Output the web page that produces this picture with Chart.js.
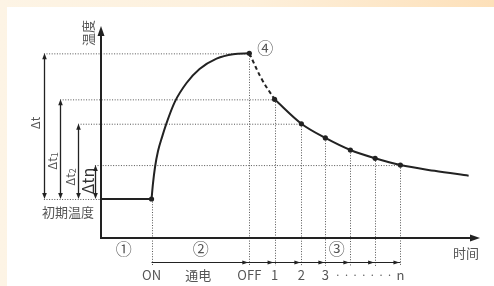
<!DOCTYPE html>
<html>
<head>
<meta charset="utf-8">
<script src="https://cdn.jsdelivr.net/npm/chart.js@4.4.1/dist/chart.umd.min.js"></script>
<style>
  html, body { margin: 0; padding: 0; }
  body {
    width: 494px; height: 286px; overflow: hidden; position: relative;
    background: linear-gradient(90deg, #fdf4e5 0%, #fdf0dc 50%, #fde0b9 100%);
  }
  #panel { position: absolute; left: 7px; top: 7px; right: 0; bottom: 0; background: #fff; }
  #wrap { position: absolute; left: 0; top: 0; width: 494px; height: 286px; }
</style>
</head>
<body>
<div id="panel"></div>
<div id="wrap"><canvas id="chart" width="494" height="286"></canvas></div>
<script>
// Heating (switch ON -> OFF)
const timeOn = 2.0;
const timeOff = 5.87;
const baseTemp = 18.4;
const peakTemp = 87.1;
const heatTimes = [2.0, 2.059, 2.139, 2.257, 2.416, 2.594, 2.922, 3.385, 3.90, 4.573, 5.23, 5.87];
const heatTemps = [18.4, 25.9, 33.5, 41.0, 47.6, 54.2, 64.2, 73.1, 79.7, 84.6, 86.7, 87.1];

// dashed part right after OFF
const dashTimes = [5.87, 6.37, 6.87];
const dashTemps = [87.1, 74.8, 65.4];

// cooling measurements 1, 2, 3 ... n
const coolTimes = [6.87, 7.93, 8.88, 9.87, 10.85, 11.85];
const coolTemps = [65.4, 53.9, 47.2, 41.5, 37.6, 34.4];
const tailTimes = [13.2, 14.55];
const tailTemps = [31.7, 29.4];

// Δ arrows on the left (time value left of the axis, top temperature)
const deltaLabels = ["Δt", "Δt1", "Δt2", "Δtn"];
const deltaTimes = [-2.26, -1.62, -0.91, -0.24];
const deltaTops = [87.1, 65.4, 53.9, 34.4];

// labels under the time axis
const tickLabels = ["ON", "通电", "OFF", "1", "2", "3", "· · · · · · ·", "n"];
const tickTimes = [2.0, 3.85, 5.87, 6.87, 7.93, 8.88, 10.4, 11.85];
const rowTemp = -11.3;   // level of the little arrow row

const phaseLabels = ["①", "②", "③", "④"];
const phaseTimes = [0.9, 3.95, 9.33, 6.5];
const phaseTemps = [-5.2, -5.2, -5.2, 89.6];

const INK = "#222";
const GUIDE = "#555";
const TEXT = "#555";
const FONT = '"Noto Sans CJK JP", "Noto Sans", sans-serif';

const pts = (xs, ys) => xs.map((x, i) => ({ x, y: ys[i] }));

function arrowHead(ctx, x, y, dir, len, half) {
  // dir: 'up' | 'down' | 'right'
  ctx.beginPath();
  if (dir === "up") { ctx.moveTo(x, y); ctx.lineTo(x - half, y + len); ctx.lineTo(x + half, y + len); }
  if (dir === "down") { ctx.moveTo(x, y); ctx.lineTo(x - half, y - len); ctx.lineTo(x + half, y - len); }
  if (dir === "right") { ctx.moveTo(x, y); ctx.lineTo(x - len, y - half); ctx.lineTo(x - len, y + half); }
  ctx.closePath();
  ctx.fill();
}

function line(ctx, x1, y1, x2, y2) {
  ctx.beginPath(); ctx.moveTo(x1, y1); ctx.lineTo(x2, y2); ctx.stroke();
}

const diagram = {
  id: "diagram",
  beforeDatasetsDraw(chart) {
    const { ctx, scales: { x, y } } = chart;
    const X = v => x.getPixelForValue(v), Y = v => y.getPixelForValue(v);
    ctx.save();

    // dotted guides
    ctx.strokeStyle = GUIDE; ctx.lineWidth = 1; ctx.setLineDash([1, 1.6]);
    line(ctx, X(deltaTimes[0]), Y(peakTemp) + 0.5, X(timeOff), Y(peakTemp) + 0.5);
    line(ctx, X(deltaTimes[1]), Y(coolTemps[0]) + 0.5, X(coolTimes[0]), Y(coolTemps[0]) + 0.5);
    line(ctx, X(deltaTimes[2]), Y(coolTemps[1]) + 0.5, X(coolTimes[1]), Y(coolTemps[1]) + 0.5);
    line(ctx, X(deltaTimes[3]), Y(coolTemps[5]) + 0.5, X(coolTimes[5]), Y(coolTemps[5]) + 0.5);
    line(ctx, X(deltaTimes[0]), Y(baseTemp) + 0.5, X(0), Y(baseTemp) + 0.5);
    const bottom = Y(rowTemp) + 4;
    line(ctx, Math.round(X(timeOn)) + 0.5, Y(baseTemp), Math.round(X(timeOn)) + 0.5, bottom);
    line(ctx, Math.round(X(timeOff)) + 0.5, Y(peakTemp), Math.round(X(timeOff)) + 0.5, bottom);
    coolTimes.forEach((t, i) => {
      line(ctx, Math.round(X(t)) + 0.5, Y(coolTemps[i]), Math.round(X(t)) + 0.5, bottom);
    });
    ctx.setLineDash([]);

    // axes
    ctx.strokeStyle = INK; ctx.fillStyle = INK; ctx.lineWidth = 2;
    line(ctx, X(0), Y(0), X(0), Y(100) + 8);
    arrowHead(ctx, X(0), Y(100), "up", 10, 3.5);
    line(ctx, X(0) - 1, Y(0), X(15) - 8, Y(0));
    arrowHead(ctx, X(15), Y(0), "right", 10, 3.5);

    // Δ arrows
    ctx.lineWidth = 1.3;
    deltaTimes.forEach((t, i) => {
      const px = Math.round(X(t)) + 0.5;
      line(ctx, px, Y(deltaTops[i]) + 5, px, Y(baseTemp) - 5);
      arrowHead(ctx, px, Y(deltaTops[i]), "up", 6, 2.3);
      arrowHead(ctx, px, Y(baseTemp), "down", 6, 2.3);
    });

    // little arrow row ON -> OFF -> 1 -> ... n
    const stops = [timeOff].concat(coolTimes);
    ctx.lineWidth = 1.2;
    const ry = Math.round(Y(rowTemp)) + 0.5;
    line(ctx, X(timeOn), ry, X(coolTimes[5]), ry);
    stops.forEach(t => arrowHead(ctx, X(t) - 1, ry, "right", 6, 2));

    ctx.restore();
  },
  afterDatasetsDraw(chart) {
    const { ctx, scales: { x, y } } = chart;
    const X = v => x.getPixelForValue(v), Y = v => y.getPixelForValue(v);
    ctx.save();
    ctx.fillStyle = TEXT;
    ctx.textAlign = "center"; ctx.textBaseline = "middle";

    // axis titles
    ctx.font = "13px " + FONT;
    ctx.save(); ctx.translate(X(0) - 13, Y(100) + 7); ctx.rotate(-Math.PI / 2);
    ctx.fillText("温度", 0, 0); ctx.restore();
    ctx.fillText("时间", X(15) - 14, Y(0) + 15);
    ctx.fillText("初期温度", X(deltaTimes[0]) + 24, Y(baseTemp) + 13);

    // bottom labels
    tickLabels.forEach((s, i) => {
      ctx.font = (s.startsWith("·") ? "11px " : "13px ") + FONT;
      ctx.fillText(s, X(tickTimes[i]), Y(rowTemp) + 13);
    });

    // circled numbers
    ctx.font = "16px " + FONT;
    phaseLabels.forEach((s, i) => ctx.fillText(s, X(phaseTimes[i]), Y(phaseTemps[i])));

    // Δ labels
    const pos = [[-8, 123], [-8, 161], [-8, 177], [-7, 181]];
    deltaLabels.forEach((s, i) => {
      const px = X(deltaTimes[i]) + pos[i][0];
      ctx.save(); ctx.translate(px, pos[i][1]); ctx.rotate(-Math.PI / 2);
      if (i === 3) {
        ctx.fillStyle = "#333"; ctx.font = "16px " + FONT;
        ctx.fillText(s, 0, 0);
      } else {
        const main = s.slice(0, 2), sub = s.slice(2);
        ctx.font = "12px " + FONT;
        const w = ctx.measureText(main).width;
        ctx.font = "9px " + FONT;
        const ws = sub ? ctx.measureText(sub).width : 0;
        ctx.textAlign = "left";
        ctx.font = "12px " + FONT;
        ctx.fillText(main, -(w + ws) / 2, 0);
        if (sub) { ctx.font = "9px " + FONT; ctx.fillText(sub, -(w + ws) / 2 + w, 3); }
      }
      ctx.restore();
    });
    ctx.restore();
  }
};

new Chart(document.getElementById("chart"), {
  type: "line",
  data: {
    datasets: [
      { data: pts([0, timeOn], [baseTemp, baseTemp]), borderColor: INK, borderWidth: 2, pointRadius: 0 },
      { data: pts(heatTimes, heatTemps), borderColor: INK, borderWidth: 2, pointRadius: 0, cubicInterpolationMode: "monotone" },
      { data: pts(dashTimes, dashTemps), borderColor: INK, borderWidth: 2, borderDash: [4, 3], pointRadius: 0, tension: 0.4 },
      { data: pts(coolTimes.concat(tailTimes), coolTemps.concat(tailTemps)), borderColor: INK, borderWidth: 2, pointRadius: 0, cubicInterpolationMode: "monotone" },
      { data: pts([timeOn, timeOff].concat(coolTimes), [baseTemp, peakTemp].concat(coolTemps)), showLine: false,
        pointRadius: 2.6, pointBackgroundColor: INK, pointBorderWidth: 0 }
    ]
  },
  options: {
    responsive: false,
    animation: false,
    events: [],
    layout: { padding: { left: 101, right: 14, top: 26, bottom: 48 } },
    plugins: { legend: { display: false }, tooltip: { enabled: false } },
    scales: {
      x: { type: "linear", min: 0, max: 15, display: false },
      y: { type: "linear", min: 0, max: 100, display: false }
    }
  },
  plugins: [diagram]
});
</script>
</body>
</html>
